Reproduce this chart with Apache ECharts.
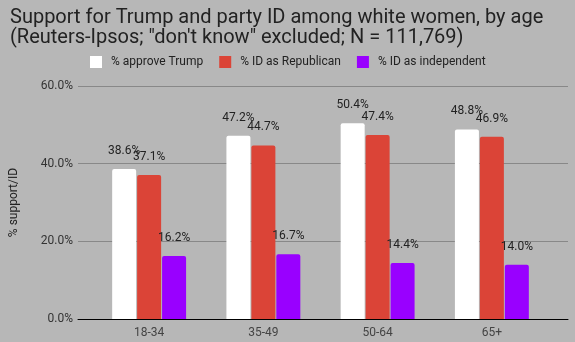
<!DOCTYPE html>
<html><head><meta charset="utf-8">
<script src="https://cdn.jsdelivr.net/npm/echarts@6/dist/echarts.min.js"></script>
<style>html,body{margin:0;padding:0;background:#b7b7b7}#c{width:575px;height:342px}</style>
</head><body><div id="c"></div>
<script>
const categories = ['18-34','35-49','50-64','65+'];
const approveTrump = [38.6, 47.2, 50.4, 48.8];
const idRepublican = [37.1, 44.7, 47.4, 46.9];
const idIndependent = [16.2, 16.7, 14.4, 14.0];
const seriesNames = ['% approve Trump','% ID as Republican','% ID as independent'];
const colors = ['#ffffff','#db4437','#9900ff'];
const yTicks = {min:0, max:60, interval:20};

const chart = echarts.init(document.getElementById('c'));
const lbl = {show:true, position:'top', distance:12, color:'#222', fontSize:12, fontFamily:'Roboto', formatter: p => p.value.toFixed(1)+'%'};
const mk = (i, data) => ({name:seriesNames[i], type:'bar', data, xAxisIndex:1, yAxisIndex:1,
  barWidth:24, barGap:'4%', itemStyle:{color:colors[i], borderRadius:[2,2,0,0]}, label:lbl});
chart.setOption({
  backgroundColor:'#b7b7b7',
  animation:false,
  title:{text:'Support for Trump and party ID among white women, by age\n(Reuters-Ipsos; "don\'t know" excluded; N = 111,769)',
    left:5, top:3, textStyle:{fontFamily:'Roboto', fontSize:20, fontWeight:'normal', color:'#222', lineHeight:20}},
  legend:{top:51, left:85, itemWidth:12, itemHeight:12, itemGap:16, icon:'rect',
    textStyle:{fontFamily:'Roboto', fontSize:12, color:'#222', padding:[0,0,0,4]}, data:seriesNames},
  grid:[{left:73, right:7, top:86, bottom:23},{left:92, right:26, top:86, bottom:23}],
  xAxis:[
    {type:'value', gridIndex:0, min:0, max:1, axisLabel:{show:false}, splitLine:{show:false}, axisTick:{show:false},
     axisLine:{show:true, onZero:false, lineStyle:{color:'#000', width:1}}},
    {type:'category', gridIndex:1, data:categories, axisTick:{show:false}, axisLine:{show:false},
     axisLabel:{fontFamily:'Roboto', fontSize:12, color:'#444', margin:8}}
  ],
  yAxis:[
    {type:'value', gridIndex:0, ...yTicks, name:'% support/ID', nameLocation:'middle', nameGap:58,
     nameTextStyle:{fontFamily:'Roboto', fontSize:12, color:'#222'},
     axisLabel:{formatter: v => v.toFixed(1)+'%', fontFamily:'Roboto', fontSize:12, color:'#333', margin:5},
     splitLine:{lineStyle:{color:'#888'}}, axisLine:{show:false}, axisTick:{show:false}},
    {type:'value', gridIndex:1, ...yTicks, show:false, splitLine:{show:false}}
  ],
  series:[mk(0, approveTrump), mk(1, idRepublican), mk(2, idIndependent)]
});
</script></body></html>
